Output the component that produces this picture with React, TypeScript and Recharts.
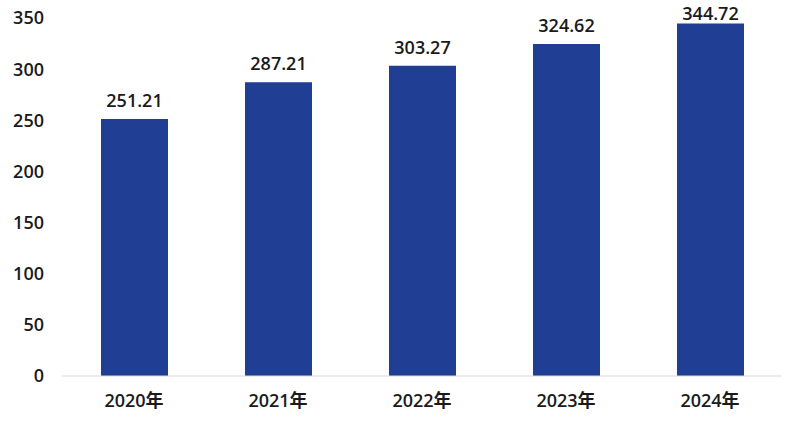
import { BarChart, Bar, XAxis, YAxis, LabelList } from 'recharts';

// 年度数据
const years = ['2020年', '2021年', '2022年', '2023年', '2024年'];
const values = [251.21, 287.21, 303.27, 324.62, 344.72];
const yTicks = [0, 50, 100, 150, 200, 250, 300, 350];

const data = years.map((year, i) => ({ year, value: values[i] }));

const font = '"Open Sans", "Noto Sans CJK SC", sans-serif';

// 柱顶数值标签，顶部不超出画面
const ValueLabel = (props: any) => {
  const { x, y, width, value } = props;
  const ty = Math.max(y - 12, 20);
  return (
    <text
      x={x + width / 2}
      y={ty}
      textAnchor="middle"
      style={{ fontSize: 18, fill: '#1a1a1a', fontFamily: font, fontWeight: 600 }}
    >
      {value}
    </text>
  );
};

export default function App() {
  return (
    <div style={{ position: 'absolute', left: 0, top: 0, width: 800, height: 426, background: '#fff' }}>
      <BarChart
        width={800}
        height={426}
        data={data}
        margin={{ top: 18, right: 18, left: 0, bottom: 0 }}
        barCategoryGap="23%"
      >
        <XAxis
          dataKey="year"
          height={50}
          tickLine={false}
          axisLine={{ stroke: '#d9d9d9', strokeWidth: 1 }}
          tick={{ fontSize: 18, fill: '#1a1a1a', fontFamily: font, fontWeight: 600 }}
          tickMargin={12}
        />
        <YAxis
          width={62}
          domain={[0, 350]}
          ticks={yTicks}
          axisLine={false}
          tickLine={false}
          tickMargin={12}
          tick={{ fontSize: 18, fill: '#1a1a1a', fontFamily: font, fontWeight: 600 }}
        />
        <Bar dataKey="value" fill="#1f3e94" barSize={67} isAnimationActive={false}>
          <LabelList dataKey="value" content={ValueLabel} />
        </Bar>
      </BarChart>
    </div>
  );
}
